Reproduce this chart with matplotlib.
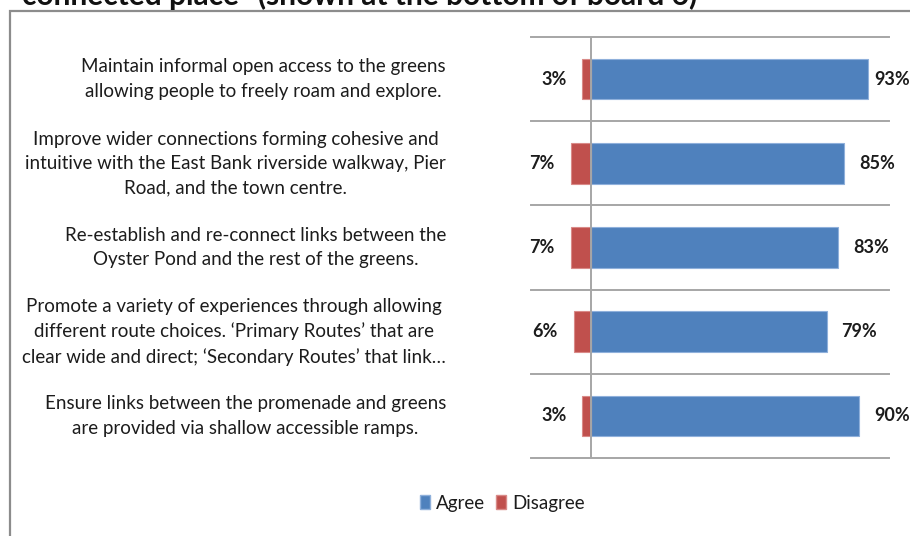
import matplotlib
matplotlib.use("Agg")
import matplotlib.pyplot as plt
from matplotlib.patches import Rectangle, Patch

categories = [
    "Maintain informal open access to the greens\nallowing people to freely roam and explore.",
    "Improve wider connections forming cohesive and\nintuitive with the East Bank riverside walkway, Pier\nRoad, and the town centre.",
    "Re-establish and re-connect links between the\nOyster Pond and the rest of the greens.",
    "Promote a variety of experiences through allowing\ndifferent route choices. \u2018Primary Routes\u2019 that are\nclear wide and direct; \u2018Secondary Routes\u2019 that link\u2026",
    "Ensure links between the promenade and greens\nare provided via shallow accessible ramps.",
]
agree = [93, 85, 83, 79, 90]
disagree = [3, 7, 7, 6, 3]
series_names = ["Agree", "Disagree"]
title = "connected place\u201d (shown at the bottom of board 6)"

BLUE = "#4F81BD"
RED = "#C0504D"
GRID = "#A6A6A6"
TXT = "#1c1c1c"

plt.rcParams['font.family'] = ['Lato', 'DejaVu Sans']

W, H = 910, 536
fig = plt.figure(figsize=(W / 100, H / 100), dpi=100)

# outer frame
fig.patches.append(Rectangle((10 / W, -0.1), 1.2, 1 - 11 / H + 0.1,
                             transform=fig.transFigure, fill=False,
                             edgecolor="#8c8c8c", linewidth=1.6))

# title (cut off at the top edge, as in the reference screenshot)
fig.text(22 / W, 1 - 5 / H, title, fontsize=21.5, fontweight='bold',
         color="#111111", ha='left', va='baseline')

ax = fig.add_axes([531 / W, (H - 458) / H, 358 / W, 421 / H])
ys = list(range(len(categories)))
ax.barh(ys, agree, height=0.48, color=BLUE, edgecolor="#8fb0db", linewidth=0.8, zorder=3)
ax.barh(ys, [-d for d in disagree], height=0.48, color=RED, edgecolor="#d98a88", linewidth=0.8, zorder=3)
ax.set_xlim(-20.3, 100)
ax.set_ylim(len(categories) - 0.5, -0.5)
for b in range(len(categories) + 1):
    ax.axhline(b - 0.5, color=GRID, linewidth=1.4, zorder=1, clip_on=False)
ax.axvline(0, color=GRID, linewidth=1.4, zorder=4)
for s in ax.spines.values():
    s.set_visible(False)
ax.set_xticks([])
ax.set_yticks([])

for y, a, d in zip(ys, agree, disagree):
    if a >= 92:
        ax.annotate(f"{a}%", xy=(1.0, y), xycoords=('figure fraction', 'data'),
                    ha='right', va='center', fontsize=13, fontweight='bold', color=TXT)
    else:
        ax.annotate(f"{a}%", xy=(a, y), xytext=(15, 0), textcoords='offset pixels',
                    ha='left', va='center', fontsize=13, fontweight='bold', color=TXT)
    ax.annotate(f"{d}%", xy=(-d, y), xytext=(-16, 0), textcoords='offset pixels',
                ha='right', va='center', fontsize=13, fontweight='bold', color=TXT)
    ax.annotate(categories[y], xy=(446 / W, y), xycoords=('figure fraction', 'data'),
                ha='right', va='center', multialignment='center', fontsize=13.5,
                color=TXT, linespacing=1.52)

handles = [Patch(facecolor=BLUE, edgecolor="#8fb0db"), Patch(facecolor=RED, edgecolor="#d98a88")]
fig.legend(handles, series_names, loc='center', bbox_to_anchor=(502 / W, 1 - 503 / H),
           ncol=2, frameon=False, fontsize=13.5, handlelength=0.55, handleheight=0.8,
           handletextpad=0.3, columnspacing=0.6, labelcolor=TXT)

fig.savefig("out.png", dpi=100)
